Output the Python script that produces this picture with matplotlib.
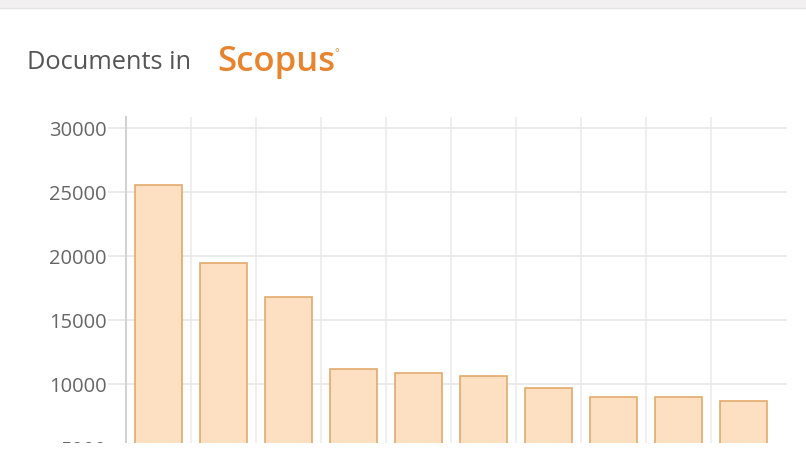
import matplotlib
matplotlib.use('Agg')
import matplotlib.pyplot as plt
from matplotlib.patches import Rectangle

# documents per category
categories = ['1', '2', '3', '4', '5', '6', '7', '8', '9', '10']
documents = [25550, 19450, 16800, 11170, 10860, 10620, 9690, 8980, 8980, 8680]
y_ticks = [0, 5000, 10000, 15000, 20000, 25000, 30000]

W, H = 806, 462
fig = plt.figure(figsize=(W / 100, H / 100), dpi=100)
fig.patch.set_facecolor('white')

# axes placed in pixel terms; the bottom runs off the visible area like the cropped widget
left, right, top, zero = 126, 787, 117, 512
ax = fig.add_axes([left / W, (H - zero) / H, (right - left) / W, (zero - top) / H])

x = list(range(len(categories)))
ax.bar(x, documents, width=0.71, color='#fddfc2', edgecolor='#e3aa6c', linewidth=1.2, zorder=3)

ax.set_xlim(-0.5, len(categories) - 0.5 + 11 / 65)
ax.set_ylim(0, 30000 + 11 / 64 * 5000)
ax.set_yticks(y_ticks)
ax.set_yticklabels([str(v) for v in y_ticks])
ax.set_xticks([])

grid_col = '#e8e8e8'
ax.yaxis.grid(True, color=grid_col, linewidth=1.2, zorder=0)
for b in [i + 0.5 for i in range(len(categories) - 1)]:
    ax.axvline(b, color='#ececec', linewidth=1.2, zorder=0)

for s in ['top', 'right', 'bottom']:
    ax.spines[s].set_visible(False)
ax.spines['left'].set_color('#d0d0d0')
ax.spines['left'].set_linewidth(1.4)

ax.tick_params(axis='y', direction='out', length=13, width=1.2, color=grid_col,
               pad=1, labelsize=14.5, labelcolor='#666666')
for lbl in ax.get_yticklabels():
    lbl.set_fontfamily('Open Sans')

# cropped bottom edge of the widget
fig.patches.append(Rectangle((0, 0), 1, (H - 443) / H, transform=fig.transFigure,
                             facecolor='white', edgecolor='none', zorder=20))
# grey strip at the very top
fig.patches.append(Rectangle((0, (H - 8) / H), 1, 8 / H, transform=fig.transFigure,
                             facecolor='#f2f0f0', edgecolor='none', zorder=20))
fig.add_artist(plt.Line2D([0, 1], [(H - 8) / H, (H - 8) / H], transform=fig.transFigure,
                          color='#e6e3e3', linewidth=1, zorder=21))

fig.text(27 / W, (H - 69) / H, 'Documents in', fontsize=18.3, color='#555555',
         family='Open Sans', ha='left', va='baseline')
fig.text(217 / W, (H - 71) / H, 'Scopus', fontsize=25, color='#e8842d',
         family='Open Sans', weight='semibold', ha='left', va='baseline')
fig.text(334 / W, (H - 56) / H, '°', fontsize=8, color='#e8842d',
         family='Open Sans', ha='left', va='baseline')

fig.savefig('out.png', dpi=100, facecolor='white')
